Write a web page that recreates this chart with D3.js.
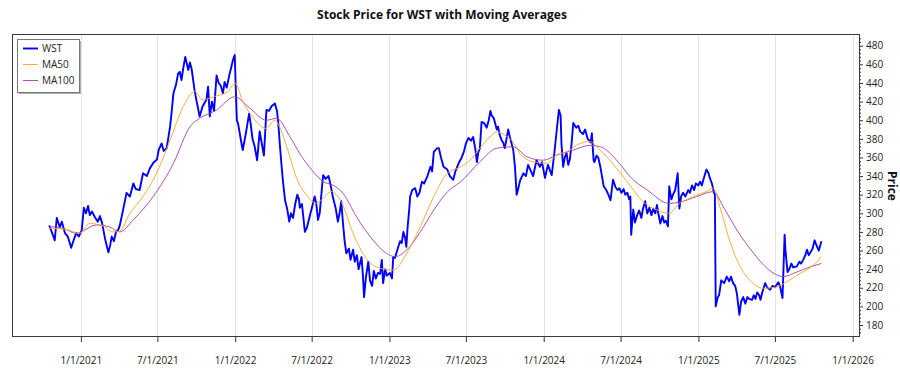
<!DOCTYPE html>
<html>
<head>
<meta charset="utf-8">
<script src="https://cdn.jsdelivr.net/npm/d3@7"></script>
<style>
  html, body { margin: 0; padding: 0; background: #fff; }
  svg { display: block; }
  text { font-family: "Segoe UI", "Open Sans", "Noto Sans", sans-serif; }
</style>
</head>
<body>
<svg id="chart" width="900" height="375"></svg>
<script>
// ---------- data ----------
const chartTitle = "Stock Price for WST with Moving Averages";
const yAxisTitle = "Price";
const seriesNames = ["WST", "MA50", "MA100"];

const wstPrices = [
["2020-10-18",287],["2020-10-24",280],["2020-10-31",271],["2020-11-05",295],["2020-11-12",285],["2020-11-17",291],["2020-11-24",279],["2020-12-01",275],["2020-12-09",263],["2020-12-14",270],["2020-12-21",279],["2020-12-27",275],
["2021-01-03",282],["2021-01-08",306],["2021-01-13",300],["2021-01-18",308],["2021-01-22",298],["2021-01-27",302],["2021-02-03",296],["2021-02-10",291],["2021-02-15",297],["2021-02-20",290],["2021-02-27",273],["2021-03-07",258],["2021-03-11",265],["2021-03-15",275],["2021-03-20",270],["2021-03-25",280],["2021-03-30",282],["2021-04-03",287],["2021-04-11",304],["2021-04-19",322],["2021-04-27",318],["2021-05-05",332],["2021-05-11",326],["2021-05-20",325],["2021-05-28",343],["2021-06-06",340],["2021-06-13",348],["2021-06-21",354],["2021-06-30",358],["2021-07-04",368],["2021-07-11",375],["2021-07-16",367],["2021-07-23",370],["2021-07-31",393],["2021-08-04",410],["2021-08-08",429],["2021-08-14",438],["2021-08-19",450],["2021-08-23",452],["2021-08-27",443],["2021-09-01",458],["2021-09-05",468],["2021-09-09",460],["2021-09-12",454],["2021-09-16",462],["2021-09-20",455],["2021-09-27",432],["2021-10-02",420],["2021-10-09",404],["2021-10-16",415],["2021-10-25",422],["2021-10-29",436],["2021-11-02",404],["2021-11-07",420],["2021-11-12",410],["2021-11-18",448],["2021-11-23",440],["2021-11-28",437],["2021-12-03",429],["2021-12-07",441],["2021-12-12",435],["2021-12-19",450],["2021-12-27",465],["2021-12-31",470],
["2022-01-02",440],["2022-01-05",400],["2022-01-08",396],["2022-01-16",375],["2022-01-19",368],["2022-01-26",385],["2022-02-03",407],["2022-02-07",395],["2022-02-11",380],["2022-02-16",372],["2022-02-22",357],["2022-02-28",388],["2022-03-05",375],["2022-03-10",362],["2022-03-16",411],["2022-03-22",410],["2022-03-28",415],["2022-04-05",418],["2022-04-10",410],["2022-04-13",397],["2022-04-17",372],["2022-04-21",350],["2022-04-24",335],["2022-04-29",314],["2022-05-04",305],["2022-05-09",291],["2022-05-13",300],["2022-05-18",295],["2022-05-23",310],["2022-05-28",320],["2022-06-01",315],["2022-06-03",306],["2022-06-08",310],["2022-06-15",280],["2022-06-20",285],["2022-06-27",298],["2022-07-01",305],["2022-07-08",318],["2022-07-12",310],["2022-07-16",293],["2022-07-20",300],["2022-07-28",341],["2022-08-03",337],["2022-08-10",340],["2022-08-15",330],["2022-08-20",318],["2022-08-27",305],["2022-09-01",291],["2022-09-05",300],["2022-09-09",313],["2022-09-13",290],["2022-09-17",270],["2022-09-21",257],["2022-09-27",262],["2022-10-01",250],["2022-10-07",261],["2022-10-11",248],["2022-10-16",255],["2022-10-20",240],["2022-10-27",253],["2022-10-30",235],["2022-11-02",210],["2022-11-06",230],["2022-11-12",248],["2022-11-16",228],["2022-11-21",222],["2022-11-25",238],["2022-11-30",230],["2022-12-05",236],["2022-12-10",235],["2022-12-14",250],["2022-12-17",225],["2022-12-22",240],["2022-12-26",233],
["2023-01-02",236],["2023-01-07",230],["2023-01-10",253],["2023-01-14",252],["2023-01-22",264],["2023-01-26",270],["2023-01-30",268],["2023-02-03",280],["2023-02-07",274],["2023-02-10",264],["2023-02-13",285],["2023-02-17",305],["2023-02-19",318],["2023-02-24",325],["2023-03-03",327],["2023-03-08",318],["2023-03-13",322],["2023-03-19",334],["2023-03-24",332],["2023-04-01",340],["2023-04-08",350],["2023-04-12",345],["2023-04-16",366],["2023-04-24",370],["2023-04-28",370],["2023-05-03",360],["2023-05-09",350],["2023-05-18",347],["2023-05-24",340],["2023-06-01",336],["2023-06-06",345],["2023-06-14",354],["2023-06-21",360],["2023-06-26",366],["2023-07-01",375],["2023-07-07",381],["2023-07-13",378],["2023-07-18",382],["2023-07-23",370],["2023-07-27",355],["2023-07-30",365],["2023-08-03",370],["2023-08-07",398],["2023-08-13",397],["2023-08-19",392],["2023-08-24",400],["2023-08-28",410],["2023-08-31",405],["2023-09-05",402],["2023-09-12",390],["2023-09-15",393],["2023-09-19",384],["2023-09-24",378],["2023-09-27",376],["2023-10-01",370],["2023-10-09",390],["2023-10-13",382],["2023-10-21",368],["2023-10-25",350],["2023-10-29",320],["2023-11-01",325],["2023-11-06",335],["2023-11-14",343],["2023-11-20",340],["2023-11-25",352],["2023-12-02",345],["2023-12-07",340],["2023-12-15",357],["2023-12-23",350],["2023-12-28",355],
["2024-01-04",338],["2024-01-11",352],["2024-01-20",341],["2024-01-27",368],["2024-02-01",390],["2024-02-06",411],["2024-02-10",405],["2024-02-12",375],["2024-02-16",350],["2024-02-20",360],["2024-02-24",365],["2024-02-28",352],["2024-03-03",358],["2024-03-07",375],["2024-03-11",397],["2024-03-18",392],["2024-03-23",394],["2024-03-27",388],["2024-04-03",385],["2024-04-08",390],["2024-04-14",380],["2024-04-18",378],["2024-04-21",376],["2024-04-24",386],["2024-04-28",357],["2024-04-30",355],["2024-05-05",362],["2024-05-09",360],["2024-05-14",350],["2024-05-22",329],["2024-05-28",325],["2024-06-02",320],["2024-06-07",314],["2024-06-13",336],["2024-06-19",328],["2024-06-24",325],["2024-06-28",327],["2024-07-03",322],["2024-07-08",326],["2024-07-12",320],["2024-07-17",322],["2024-07-21",315],["2024-07-24",318],["2024-07-26",277],["2024-07-31",304],["2024-08-04",290],["2024-08-09",298],["2024-08-14",303],["2024-08-19",295],["2024-08-23",305],["2024-08-28",313],["2024-09-02",300],["2024-09-07",306],["2024-09-12",298],["2024-09-16",305],["2024-09-21",300],["2024-09-25",309],["2024-09-28",300],["2024-10-03",289],["2024-10-08",297],["2024-10-12",290],["2024-10-16",292],["2024-10-21",286],["2024-10-24",329],["2024-10-29",315],["2024-11-02",320],["2024-11-07",325],["2024-11-13",343],["2024-11-17",305],["2024-11-21",318],["2024-11-26",322],["2024-12-01",318],["2024-12-08",325],["2024-12-12",322],["2024-12-17",330],["2024-12-22",325],["2024-12-26",332],
["2025-01-01",330],["2025-01-05",334],["2025-01-09",330],["2025-01-14",338],["2025-01-20",347],["2025-01-25",343],["2025-01-28",338],["2025-02-02",332],["2025-02-07",322],["2025-02-09",320],["2025-02-11",200],["2025-02-16",210],["2025-02-19",212],["2025-02-24",228],["2025-03-03",225],["2025-03-09",232],["2025-03-15",227],["2025-03-19",232],["2025-03-24",225],["2025-03-29",222],["2025-04-02",214],["2025-04-08",191],["2025-04-12",205],["2025-04-17",210],["2025-04-22",203],["2025-04-27",210],["2025-05-01",208],["2025-05-08",207],["2025-05-12",212],["2025-05-16",208],["2025-05-20",215],["2025-05-25",212],["2025-05-28",207],["2025-06-01",215],["2025-06-08",225],["2025-06-13",220],["2025-06-20",218],["2025-06-25",222],["2025-07-02",221],["2025-07-09",226],["2025-07-13",222],["2025-07-19",209],["2025-07-24",277],["2025-07-26",260],["2025-07-31",237],["2025-08-04",240],["2025-08-09",246],["2025-08-13",242],["2025-08-22",243],["2025-08-28",248],["2025-09-01",246],["2025-09-06",250],["2025-09-11",255],["2025-09-15",261],["2025-09-19",255],["2025-09-23",258],["2025-09-28",262],["2025-10-03",271],["2025-10-07",266],["2025-10-13",260],["2025-10-19",270]
];

const ma50Values = [
["2020-10-18",284],["2020-11-24",283],["2020-12-29",278.5],["2021-01-22",289],["2021-02-20",287],["2021-03-18",280],["2021-04-03",281],["2021-04-27",300],["2021-05-28",318],["2021-06-29",343],["2021-07-31",378.7],["2021-08-31",414.5],["2021-09-27",430.6],["2021-10-17",421.7],["2021-11-09",425],["2021-12-14",430.6],["2022-01-01",439.6],["2022-01-19",420],["2022-02-07",406],["2022-02-23",397],["2022-03-15",391],["2022-04-05",400],["2022-04-19",390],["2022-05-04",370],["2022-05-27",337],["2022-06-19",319.6],["2022-07-12",310.7],["2022-07-28",316],["2022-08-16",323.3],["2022-09-09",312.5],["2022-10-07",278.5],["2022-11-07",251.6],["2022-12-10",241],["2023-01-10",239],["2023-02-11",257],["2023-03-15",285.6],["2023-04-16",318],["2023-05-18",343],["2023-06-19",350],["2023-07-13",358],["2023-08-03",370],["2023-08-27",382],["2023-09-12",387.6],["2023-10-01",384],["2023-10-18",378],["2023-11-06",364],["2023-12-07",355.4],["2024-01-08",353.7],["2024-02-01",362.6],["2024-02-24",366],["2024-03-27",375],["2024-04-20",377],["2024-05-09",370],["2024-05-29",360.8],["2024-07-01",343],["2024-07-31",325],["2024-08-23",312.5],["2024-09-25",303.5],["2024-10-23",300],["2024-11-18",310.7],["2024-12-20",318],["2025-01-20",323.3],["2025-02-05",327],["2025-02-21",307],["2025-03-13",275],["2025-04-02",250],["2025-05-03",228],["2025-06-04",219.4],["2025-07-06",221],["2025-07-29",226.5],["2025-08-30",235.5],["2025-10-01",244.5],["2025-10-19",253.4]
];

const ma100Values = [
["2020-10-18",285.6],["2020-11-19",284],["2020-12-21",278.5],["2021-02-07",287.4],["2021-03-11",285],["2021-04-03",280],["2021-05-05",293],["2021-06-21",318],["2021-08-08",353.7],["2021-09-16",393],["2021-10-09",402],["2021-11-18",411],["2021-12-31",425.2],["2022-02-05",412.8],["2022-03-16",400],["2022-04-09",402],["2022-05-11",382],["2022-06-03",364],["2022-07-05",344.6],["2022-07-28",334],["2022-08-20",330.4],["2022-09-13",321.5],["2022-10-15",296.3],["2022-11-23",271.3],["2022-12-25",257],["2023-01-14",253.4],["2023-02-11",260.6],["2023-03-15",280],["2023-04-16",303.5],["2023-05-18",323],["2023-06-19",334],["2023-08-03",355.4],["2023-09-12",370],["2023-10-21",371.5],["2023-11-22",360.8],["2023-12-31",357],["2024-02-01",362.6],["2024-03-11",368],["2024-04-20",373],["2024-05-14",371.5],["2024-07-01",352],["2024-07-24",339],["2024-09-02",325],["2024-10-23",310.7],["2024-11-18",312],["2024-12-28",318],["2025-02-05",323.3],["2025-03-03",305.3],["2025-04-02",282],["2025-05-12",257],["2025-06-12",241],["2025-07-22",232],["2025-08-22",237],["2025-09-23",242.6],["2025-10-19",246]
];

const xTickLabels = ["1/1/2021","7/1/2021","1/1/2022","7/1/2022","1/1/2023","7/1/2023","1/1/2024","7/1/2024","1/1/2025","7/1/2025","1/1/2026"];
const yTickValues = [180,200,220,240,260,280,300,320,340,360,380,400,420,440,460,480];
const xDomainDates = ["2020-07-22","2026-01-16"];
const yDomainValues = [168.2, 492.6];

// ---------- styles ----------
const seriesColors = { "WST": "#0000ff", "MA50": "#f5a623", "MA100": "#a040b0" };
const seriesWidths = { "WST": 1.9, "MA50": 0.9, "MA100": 0.9 };
const fontStack = "'Segoe UI','Open Sans','Noto Sans',sans-serif";

// ---------- layout ----------
const svg = d3.select("#chart");
const plot = { left: 12, right: 859, top: 34, bottom: 336 };

const parseISO = d3.utcParse("%Y-%m-%d");
const parseTick = d3.utcParse("%m/%d/%Y");

const x = d3.scaleUtc()
  .domain(xDomainDates.map(parseISO))
  .range([plot.left, plot.right]);
const y = d3.scaleLinear()
  .domain(yDomainValues)
  .range([plot.bottom, plot.top]);

svg.append("rect").attr("width", 900).attr("height", 375).attr("fill", "#fff");

// vertical grid lines
const xTickDates = xTickLabels.map(parseTick);
svg.append("g").selectAll("line").data(xTickDates).join("line")
  .attr("x1", d => Math.round(x(d)) + 0.5).attr("x2", d => Math.round(x(d)) + 0.5)
  .attr("y1", plot.top).attr("y2", plot.bottom)
  .attr("stroke", "#e4e4e4").attr("stroke-width", 1);

// x axis (ticks + labels)
const xAxis = d3.axisBottom(x)
  .tickValues(xTickDates)
  .tickFormat((d, i) => xTickLabels[i])
  .tickSize(6).tickPadding(15);
const gx = svg.append("g").attr("transform", `translate(0,${plot.bottom})`).call(xAxis);
gx.select(".domain").remove();
gx.selectAll(".tick line").attr("stroke", "#333");
gx.selectAll(".tick text").attr("font-size", "10px").attr("fill", "#222")
  .attr("font-family", fontStack);

// y axis on the right: minor ticks then major ticks
const minorTicks = d3.range(172, 492, 4).filter(v => v % 20 !== 0);
const yMinor = d3.axisRight(y).tickValues(minorTicks).tickSize(2).tickFormat("");
const gym = svg.append("g").attr("transform", `translate(${plot.right},0)`).call(yMinor);
gym.select(".domain").remove();
gym.selectAll(".tick line").attr("stroke", "#333");

const yAxis = d3.axisRight(y).tickValues(yTickValues).tickSize(4).tickPadding(3);
const gy = svg.append("g").attr("transform", `translate(${plot.right},0)`).call(yAxis);
gy.select(".domain").remove();
gy.selectAll(".tick line").attr("stroke", "#333");
gy.selectAll(".tick text").attr("font-size", "10px").attr("fill", "#222")
  .attr("font-family", fontStack);

// series lines
const clipId = "plotclip";
svg.append("clipPath").attr("id", clipId).append("rect")
  .attr("x", plot.left).attr("y", plot.top)
  .attr("width", plot.right - plot.left).attr("height", plot.bottom - plot.top);

const seriesData = {
  "WST": wstPrices.map(d => [parseISO(d[0]), d[1]]),
  "MA50": ma50Values.map(d => [parseISO(d[0]), d[1]]),
  "MA100": ma100Values.map(d => [parseISO(d[0]), d[1]])
};
const rawLine = d3.line().x(d => x(d[0])).y(d => y(d[1]));
const smoothLine = d3.line().x(d => x(d[0])).y(d => y(d[1])).curve(d3.curveMonotoneX);

const gLines = svg.append("g").attr("clip-path", `url(#${clipId})`);
gLines.append("path").datum(seriesData["WST"])
  .attr("d", rawLine).attr("fill", "none")
  .attr("stroke", seriesColors["WST"]).attr("stroke-width", seriesWidths["WST"])
  .attr("stroke-linejoin", "round");
["MA100", "MA50"].forEach(name => {
  gLines.append("path").datum(seriesData[name])
    .attr("d", smoothLine).attr("fill", "none")
    .attr("stroke", seriesColors[name]).attr("stroke-width", seriesWidths[name]);
});

// plot frame
svg.append("rect")
  .attr("x", plot.left + 0.5).attr("y", plot.top + 0.5)
  .attr("width", plot.right - plot.left).attr("height", plot.bottom - plot.top)
  .attr("fill", "none").attr("stroke", "#3a3a3a").attr("stroke-width", 1);

// legend
const lg = { x: 17, y: 39, w: 62, h: 53 };
svg.append("rect").attr("x", lg.x + 2).attr("y", lg.y + 2).attr("width", lg.w).attr("height", lg.h)
  .attr("fill", "#b0b0b0");
svg.append("rect").attr("x", lg.x + 0.5).attr("y", lg.y + 0.5).attr("width", lg.w).attr("height", lg.h)
  .attr("fill", "#fff").attr("stroke", "#777");
const legendRows = svg.append("g").selectAll("g").data(seriesNames).join("g")
  .attr("transform", (d, i) => `translate(${lg.x}, ${lg.y + 9 + i * 16})`);
legendRows.append("line").attr("x1", 6).attr("x2", 21).attr("y1", 0.5).attr("y2", 0.5)
  .attr("stroke", d => seriesColors[d]).attr("stroke-width", d => seriesWidths[d]);
legendRows.append("text").attr("x", 25).attr("y", 4).attr("font-size", "10px").attr("fill", "#222")
  .attr("font-family", fontStack).text(d => d);

// title
svg.append("text").attr("x", 442).attr("y", 19).attr("text-anchor", "middle")
  .attr("font-size", "12px").attr("font-weight", "bold").attr("fill", "#111")
  .attr("font-family", fontStack).text(chartTitle);

// y axis title (rotated)
svg.append("text").attr("transform", "translate(888,186) rotate(90)")
  .attr("text-anchor", "middle").attr("font-size", "12px").attr("font-weight", "bold").attr("fill", "#111")
  .attr("font-family", fontStack).text(yAxisTitle);
</script>
</body>
</html>
